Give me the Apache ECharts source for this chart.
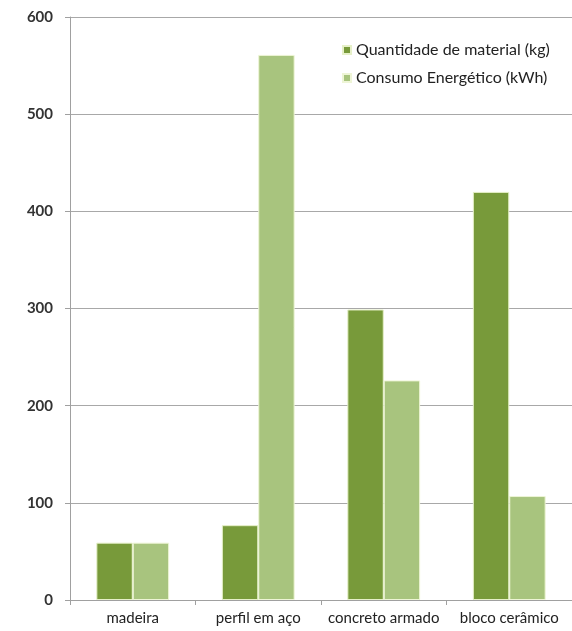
<!DOCTYPE html>
<html><head><meta charset="utf-8">
<script src="https://cdn.jsdelivr.net/npm/echarts@6/dist/echarts.min.js"></script>
<style>html,body{margin:0;padding:0;background:#fff}#c{width:572px;height:631px}</style>
</head><body><div id="c"></div>
<script>
const categories = ['madeira', 'perfil em aço', 'concreto armado', 'bloco cerâmico'];
const seriesNames = ['Quantidade de material (kg)', 'Consumo Energético (kWh)'];
const quantidade = [59, 77, 299, 420];
const consumo = [59, 561, 226, 107];
const yTicks = { min: 0, max: 600, interval: 100 };

const chart = echarts.init(document.getElementById('c'));
const font = 'Lato, "Open Sans", sans-serif';
chart.setOption({
  animation: false,
  grid: { left: 70, right: -7, top: 17, bottom: 31, containLabel: false },
  legend: {
    orient: 'vertical', left: 337, top: 37, itemGap: 12,
    icon: 'rect', itemWidth: 8, itemHeight: 8,
    textStyle: { fontFamily: font, fontSize: 16, color: '#222' },
    data: seriesNames
  },
  xAxis: {
    type: 'category', data: categories,
    axisLine: { lineStyle: { color: '#a0a0a0' } },
    axisTick: { show: true, length: 5, alignWithLabel: false, lineStyle: { color: '#a0a0a0' } },
    axisLabel: { fontFamily: font, fontSize: 15, color: '#222', margin: 11, interval: 0 }
  },
  yAxis: {
    type: 'value', min: yTicks.min, max: yTicks.max, interval: yTicks.interval,
    axisLine: { show: true, lineStyle: { color: '#a0a0a0' } },
    axisTick: { show: true, length: 5, lineStyle: { color: '#a0a0a0' } },
    splitLine: { lineStyle: { color: '#a8a8a8' } },
    axisLabel: { fontFamily: font, fontSize: 15, color: '#333', margin: 17, fontWeight: 'bold' }
  },
  series: [
    { name: seriesNames[0], type: 'bar', data: quantidade, barGap: '0%', barCategoryGap: '42%',
      itemStyle: { color: '#789a3a', borderColor: '#e6f0c8', borderWidth: 1 } },
    { name: seriesNames[1], type: 'bar', data: consumo,
      itemStyle: { color: '#a8c47e', borderColor: '#eef5d6', borderWidth: 1 } }
  ]
});
</script></body></html>
